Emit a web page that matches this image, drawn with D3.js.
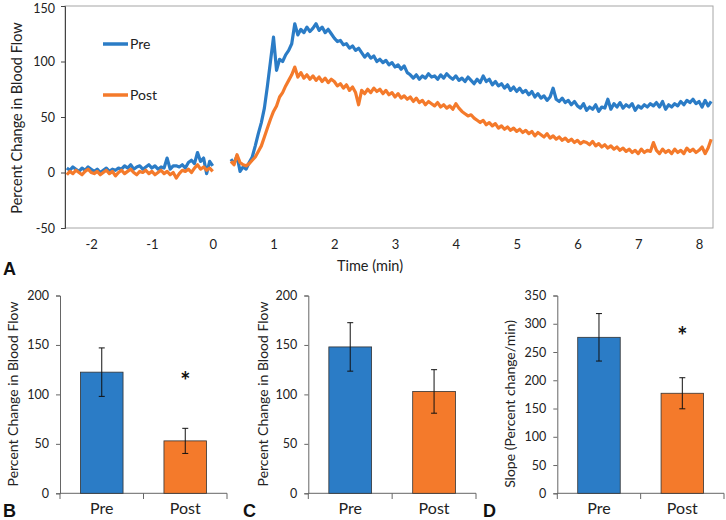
<!DOCTYPE html>
<html><head><meta charset="utf-8">
<script src="https://cdn.jsdelivr.net/npm/d3@7"></script>
<style>body{margin:0;background:#fff}svg{font-family:Lato,"Open Sans",sans-serif}</style>
</head><body><svg id="c" width="726" height="520"></svg>
<script>
// ---------- DATA ----------
const timeMin = [
-2.40,-2.35,-2.30,-2.25,-2.20,-2.15,-2.10,-2.05,-2.00,-1.95,
-1.90,-1.85,-1.80,-1.75,-1.70,-1.65,-1.60,-1.55,-1.50,-1.45,
-1.40,-1.35,-1.30,-1.25,-1.20,-1.15,-1.10,-1.05,-1.00,-0.95,
-0.90,-0.85,-0.80,-0.75,-0.70,-0.65,-0.60,-0.55,-0.50,-0.45,
-0.40,-0.35,-0.30,-0.25,-0.20,-0.15,-0.10,-0.05,0.00,
0.15,
0.30,0.35,0.40,0.45,0.50,0.55,0.60,0.65,0.70,0.75,
0.80,0.85,0.90,0.95,1.00,1.05,1.10,1.15,1.20,1.25,
1.30,1.35,1.40,1.45,1.50,1.55,1.60,1.65,1.70,1.75,
1.80,1.85,1.90,1.95,2.00,2.05,2.10,2.15,2.20,2.25,
2.30,2.35,2.40,2.45,2.50,2.55,2.60,2.65,2.70,2.75,
2.80,2.85,2.90,2.95,3.00,3.05,3.10,3.15,3.20,3.25,
3.30,3.35,3.40,3.45,3.50,3.55,3.60,3.65,3.70,3.75,
3.80,3.85,3.90,3.95,4.00,4.05,4.10,4.15,4.20,4.25,
4.30,4.35,4.40,4.45,4.50,4.55,4.60,4.65,4.70,4.75,
4.80,4.85,4.90,4.95,5.00,5.05,5.10,5.15,5.20,5.25,
5.30,5.35,5.40,5.45,5.50,5.55,5.60,5.65,5.70,5.75,
5.80,5.85,5.90,5.95,6.00,6.05,6.10,6.15,6.20,6.25,
6.30,6.35,6.40,6.45,6.50,6.55,6.60,6.65,6.70,6.75,
6.80,6.85,6.90,6.95,7.00,7.05,7.10,7.15,7.20,7.25,
7.30,7.35,7.40,7.45,7.50,7.55,7.60,7.65,7.70,7.75,
7.80,7.85,7.90,7.95,8.00,8.05,8.10,8.15,8.20
];
const preFlow = [
4,2,5,3,1,4,2,5,3,1,
3,0,2,4,1,3,2,4,3,6,
4,7,3,5,6,3,5,7,4,6,
3,5,4,13,3,6,6,5,7,4,
9,11,8,18,10,13,-1,10,6,
null,
12,8,15,1,5,3,9,14,24,35,
45,58,78,100,122,92,102,100,106,110,
116,134,124,129,126,131,127,130,134,128,
131,126,129,125,121,118,119,115,116,112,
114,110,112,108,104,107,103,105,100,102,
99,101,97,99,95,97,93,96,90,88,
85,88,84,87,85,89,86,87,84,88,
85,89,86,84,87,83,85,82,86,83,
80,84,81,87,82,84,79,82,78,80,
76,79,74,77,73,76,72,74,70,73,
68,71,67,69,65,68,76,66,64,67,
63,65,61,64,60,58,62,56,59,57,
61,55,59,58,66,57,62,59,63,58,
61,59,62,56,60,58,61,59,62,60,
63,59,64,57,61,59,62,60,64,61,
65,63,66,62,64,59,65,60,64
];
const postFlow = [
-2,1,-1,2,0,-2,1,3,0,-1,
1,-2,0,2,-1,1,-3,0,2,-1,
1,3,0,-2,1,0,2,-1,1,-2,
0,2,-1,1,-2,0,-5,-1,2,1,
3,0,4,7,3,5,2,4,1,
null,
10,7,16,9,7,6,8,11,14,19,
24,32,40,48,55,60,68,72,78,83,
88,95,86,90,85,88,84,87,83,86,
82,85,81,84,82,78,80,76,79,74,
77,72,61,74,71,75,72,76,73,75,
71,74,70,72,68,71,67,69,66,68,
64,67,63,65,61,64,62,60,63,59,
61,58,60,57,62,58,55,53,51,52,
49,47,45,47,43,45,42,44,40,42,
39,41,38,40,37,39,36,38,35,37,
33,36,34,32,35,31,33,30,32,29,
31,28,30,27,29,26,28,27,25,28,
24,26,23,25,22,24,21,23,20,22,
19,21,18,20,17,21,18,20,19,27,
20,17,21,18,20,17,21,18,20,17,
22,19,21,18,20,23,17,22,30
];
const xTicksTop = [-2,-1,0,1,2,3,4,5,6,7,8];
const yTicksTop = [-50,0,50,100,150];
const seriesNames = ["Pre","Post"];
const groups = ["Pre","Post"];
const peakMean = [122.5, 53];
const peakErr  = [24.5, 12.7];
const aucMean  = [148, 103];
const aucErr   = [24.5, 22];
const slopeMean = [276, 177];
const slopeErr  = [42, 27.5];
const ticks200 = [0,50,100,150,200];
const ticks350 = [0,50,100,150,200,250,300,350];

// ---------- STYLE ----------
const BLUE = "#2b7cc6", ORANGE = "#f47a2b";
const colors = [BLUE, ORANGE];
const svg = d3.select("#c");
const fmt = d => String(d);

// ---------- TOP CHART ----------
const x = d3.scaleLinear().domain([-2.43, 8.23]).range([65, 713]);
const y = d3.scaleLinear().domain([-50, 150]).range([228, 6]);

svg.append("rect").attr("x",65).attr("y",6).attr("width",648).attr("height",222)
  .attr("fill","none").attr("stroke","#a6a6a6").attr("stroke-width",1);

const ya = svg.append("g").attr("transform","translate(65,0)")
  .call(d3.axisLeft(y).tickValues(yTicksTop).tickSize(4).tickPadding(6).tickFormat(fmt));
ya.selectAll("text").attr("font-size",12.5).attr("fill","#222").style("font-family","Lato");
ya.selectAll(".tick text").filter(d=>d===150).attr("dy","0.55em");
ya.selectAll("line").attr("stroke","#444");
ya.select(".domain").attr("stroke","#444");

const xa = svg.append("g").attr("transform","translate(0,228)")
  .call(d3.axisBottom(x).tickValues(xTicksTop).tickSize(0).tickPadding(12).tickFormat(fmt));
xa.select(".domain").remove();
xa.selectAll("text").attr("font-size",13).attr("fill","#222").style("font-family","Lato");

const pts = timeMin.map((t,i)=>({t, pre:preFlow[i], post:postFlow[i]}));
const mk = key => d3.line().defined(d=>d[key]!=null).x(d=>x(d.t)).y(d=>y(d[key]));
svg.append("path").datum(pts).attr("d",mk("pre")).attr("fill","none").attr("stroke",BLUE).attr("stroke-width",3.2).attr("stroke-linejoin","round");
svg.append("path").datum(pts).attr("d",mk("post")).attr("fill","none").attr("stroke",ORANGE).attr("stroke-width",3.2).attr("stroke-linejoin","round");

// legend
seriesNames.forEach((n,i)=>{
  const yy = 44 + i*51;
  svg.append("line").attr("x1",103).attr("x2",128).attr("y1",yy).attr("y2",yy).attr("stroke",colors[i]).attr("stroke-width",3.5);
  svg.append("text").attr("x",130).attr("y",yy+5).attr("font-size",14).attr("fill","#222").text(n);
});

svg.append("text").attr("transform","translate(22,118) rotate(-90)").attr("text-anchor","middle")
  .attr("font-size",14.5).attr("fill","#222").text("Percent Change in Blood Flow");
svg.append("text").attr("x",370).attr("y",271).attr("text-anchor","middle")
  .attr("font-size",14.5).attr("fill","#222").text("Time (min)");

const letter = (t,xx,yy)=>svg.append("text").attr("x",xx).attr("y",yy).attr("font-size",18)
  .attr("font-weight","bold").style("font-family","'Liberation Sans',Arial,sans-serif").attr("fill","#111").text(t);
letter("A",3,275);

// ---------- BAR PANELS ----------
function panel(o){
  const band = d3.scaleBand().domain(groups).range([o.x0,o.x1]).paddingInner(0.49).paddingOuter(0.245);
  const ys = d3.scaleLinear().domain([0,o.max]).range([493.3,295.5]);
  const g = svg.append("g");
  const ax = g.append("g").attr("transform",`translate(${o.x0},0)`)
    .call(d3.axisLeft(ys).tickValues(o.ticks).tickSize(4).tickPadding(7).tickFormat(fmt));
  ax.selectAll("text").attr("font-size",12.5).attr("fill","#222").style("font-family","Lato");
  ax.selectAll("line").attr("stroke","#666");
  ax.select(".domain").attr("stroke","#666");
  const bx = g.append("g").attr("transform","translate(0,493.3)")
    .call(d3.axisBottom(band).tickSize(0).tickPadding(9));
  bx.select(".domain").attr("stroke","#666").attr("d",`M${o.x0},0H${o.x1}`);
  bx.selectAll("text").attr("font-size",16).attr("fill","#222").style("font-family","Lato");
  const mid = (band("Pre")+band.bandwidth() + band("Post"))/2;
  [o.x0, mid, o.x1].forEach(bxv=>{
    g.append("line").attr("x1",bxv).attr("x2",bxv).attr("y1",493.3).attr("y2",499).attr("stroke","#666");
  });
  groups.forEach((gname,i)=>{
    g.append("rect").attr("x",band(gname)).attr("y",ys(o.means[i])).attr("width",band.bandwidth())
      .attr("height",ys(0)-ys(o.means[i])).attr("fill",colors[i]).attr("stroke","#333").attr("stroke-width",0.8);
    const cx = band(gname)+band.bandwidth()/2;
    const hi = ys(o.means[i]+o.errs[i]), lo = ys(o.means[i]-o.errs[i]);
    g.append("line").attr("x1",cx).attr("x2",cx).attr("y1",hi).attr("y2",lo).attr("stroke","#111").attr("stroke-width",1);
    [hi,lo].forEach(v=>g.append("line").attr("x1",cx-3).attr("x2",cx+3).attr("y1",v).attr("y2",v).attr("stroke","#111").attr("stroke-width",1));
  });
  if(o.star!=null){
    const cx = band("Post")+band.bandwidth()/2;
    g.append("text").attr("x",cx).attr("y",ys(o.star)+10).attr("text-anchor","middle").attr("font-size",24)
      .attr("font-weight","bold").attr("fill","#111").text("*");
  }
  g.append("text").attr("transform",`translate(${o.labelX},${o.labelY}) rotate(-90)`).attr("text-anchor","middle")
    .attr("font-size",o.labelSize).attr("fill","#222").text(o.label);
  letter(o.letter, o.letterX, 517);
}
panel({x0:60,x1:227,max:200,ticks:ticks200,means:peakMean,errs:peakErr,star:115,
  label:"Percent Change in Blood Flow",labelX:18,labelY:394,labelSize:14,letter:"B",letterX:3});
panel({x0:308.3,x1:476,max:200,ticks:ticks200,means:aucMean,errs:aucErr,star:null,
  label:"Percent Change in Blood Flow",labelX:268,labelY:394,labelSize:14,letter:"C",letterX:243});
panel({x0:557.3,x1:724,max:350,ticks:ticks350,means:slopeMean,errs:slopeErr,star:280,
  label:"Slope (Percent change/min)",labelX:515,labelY:404,labelSize:14,letter:"D",letterX:483});
</script></body></html>
